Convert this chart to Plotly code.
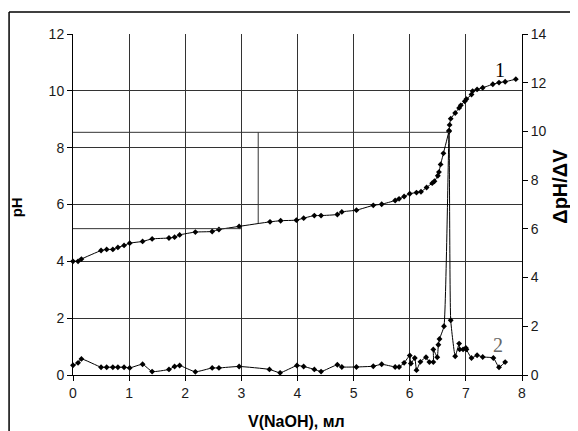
import plotly.graph_objects as go

# Curve 1: pH vs V(NaOH)
v_ph = [0, 0.09, 0.15, 0.5, 0.6, 0.71, 0.8, 0.91, 1.01, 1.24, 1.41, 1.71, 1.81, 1.9, 2.18, 2.48, 2.6, 2.96,
        3.51, 3.7, 3.98, 4.11, 4.3, 4.42, 4.71, 4.79, 5.05, 5.35, 5.5, 5.74, 5.81, 5.9, 6.0, 6.12, 6.2, 6.3,
        6.4, 6.44, 6.5, 6.52, 6.55, 6.6, 6.7, 6.71, 6.73, 6.81, 6.88, 6.91, 6.98, 7.01, 7.1, 7.12, 7.2, 7.3,
        7.48, 7.59, 7.7, 7.89]
ph = [4.0, 4.0, 4.08, 4.38, 4.42, 4.42, 4.49, 4.56, 4.64, 4.70, 4.79, 4.82, 4.85, 4.93, 5.03, 5.05, 5.12, 5.23,
      5.39, 5.43, 5.45, 5.52, 5.61, 5.61, 5.65, 5.74, 5.80, 5.97, 6.01, 6.14, 6.20, 6.28, 6.38, 6.42, 6.45, 6.60,
      6.75, 6.82, 7.01, 7.14, 7.41, 7.80, 8.60, 8.80, 9.02, 9.22, 9.40, 9.49, 9.63, 9.71, 9.87, 9.99, 10.05, 10.11,
      10.23, 10.29, 10.32, 10.41]

# Curve 2: dpH/dV vs V(NaOH)
v_d = [0, 0.09, 0.15, 0.5, 0.6, 0.71, 0.8, 0.91, 1.01, 1.24, 1.41, 1.71, 1.81, 1.9, 2.18, 2.48, 2.6, 2.96,
       3.5, 3.69, 3.99, 4.11, 4.3, 4.42, 4.71, 4.79, 5.05, 5.35, 5.5, 5.74, 5.81, 5.9, 6.0, 6.02, 6.09, 6.12,
       6.19, 6.29, 6.35, 6.42, 6.42, 6.49, 6.51, 6.53, 6.61, 6.70, 6.73, 6.81, 6.88, 6.89, 6.95, 7.0, 7.01,
       7.1, 7.2, 7.3, 7.49, 7.59, 7.7]
dph = [0.40, 0.50, 0.66, 0.32, 0.32, 0.32, 0.32, 0.32, 0.29, 0.44, 0.14, 0.23, 0.35, 0.39, 0.13, 0.29, 0.29, 0.35,
       0.23, 0.09, 0.39, 0.35, 0.23, 0.14, 0.42, 0.33, 0.33, 0.36, 0.44, 0.33, 0.33, 0.50, 0.80, 0.47, 0.70, 0.20,
       0.54, 0.73, 0.53, 0.53, 1.05, 0.73, 1.24, 1.48, 2.0, 10.0, 2.25, 0.77, 1.29, 1.05, 1.05, 1.11, 1.05,
       0.70, 0.81, 0.74, 0.70, 0.32, 0.53]

# construction lines (equivalence point / half-equivalence)
ph_eq = 8.54
v_eq = 6.71
v_half = 3.3
ph_half_end = 5.33
ph_half = 5.15
v_half_line_end = 3.0

x_ticks = list(range(0, 9))
y_ticks = list(range(0, 13, 2))
y2_ticks = list(range(0, 15, 2))

# page is offset by the 8px body margin
OFF = 8
W, H = 578 - OFF, 431 - OFF
ML, MT = 72.5 - OFF, 34 - OFF
MR = 578 - 522
MB = 431 - 375.5
pw, ph_px = W - ML - MR, H - MT - MB


def px(xpage):
    return (xpage - OFF - ML) / pw


def py(ypage):
    return 1 - (ypage - OFF - MT) / ph_px


fig = go.Figure()
fig.add_trace(go.Scatter(
    x=v_ph, y=ph, mode='lines+markers', cliponaxis=False,
    line=dict(color='black', width=1, shape='spline', smoothing=0.4),
    marker=dict(symbol='diamond', size=4.5, color='black'),
    showlegend=False, hoverinfo='skip'))
fig.add_trace(go.Scatter(
    x=v_d, y=dph, yaxis='y2', mode='lines+markers', cliponaxis=False,
    line=dict(color='black', width=1, shape='spline', smoothing=0.4),
    marker=dict(symbol='diamond', size=4.5, color='black'),
    showlegend=False, hoverinfo='skip'))

line_style = dict(color='#333333', width=1)
fig.add_shape(type='line', xref='x', yref='y', x0=0, x1=v_eq, y0=ph_eq, y1=ph_eq, line=line_style)
fig.add_shape(type='line', xref='x', yref='y', x0=v_half, x1=v_half, y0=ph_eq, y1=ph_half_end, line=line_style)
fig.add_shape(type='line', xref='x', yref='y', x0=0, x1=v_half_line_end, y0=ph_half, y1=ph_half, line=line_style)

# outer frame of the scanned figure
frame = dict(color='black', width=1.5)
fig.add_shape(type='line', xref='paper', yref='paper', x0=px(8.5), x1=px(8.5), y0=py(12), y1=py(460), line=frame)
fig.add_shape(type='line', xref='paper', yref='paper', x0=px(8.5), x1=px(600), y0=py(12), y1=py(12), line=frame)

font_tick = dict(family='Liberation Sans, Arial', size=14, color='#1a1a1a')

fig.update_layout(
    width=W, height=H, margin=dict(l=ML, r=MR, t=MT, b=MB),
    paper_bgcolor='white', plot_bgcolor='white', showlegend=False,
    xaxis=dict(range=[0, 8], tickvals=x_ticks, showgrid=True, gridcolor='#333333', gridwidth=1,
               showline=True, linecolor='black', linewidth=1, ticks='outside', ticklen=5,
               tickcolor='black', zeroline=False, tickfont=font_tick),
    yaxis=dict(range=[0, 12], tickvals=y_ticks, showgrid=True, gridcolor='#333333', gridwidth=1,
               showline=True, linecolor='black', linewidth=1, ticks='outside', ticklen=5,
               tickcolor='black', zeroline=False, tickfont=font_tick),
    yaxis2=dict(range=[0, 14], tickvals=y2_ticks, overlaying='y', side='right', showgrid=False,
                showline=True, linecolor='black', linewidth=1, ticks='outside', ticklen=5,
                tickcolor='black', zeroline=False, tickfont=font_tick),
)

fig.add_annotation(text='<b>pH</b>', xref='paper', yref='paper', x=px(16), y=py(208), showarrow=False,
                   xanchor='center', yanchor='middle',
                   textangle=-90, font=dict(family='Liberation Sans, Arial', size=15, color='black'))
fig.add_annotation(text='<b>ΔpH/ΔV</b>', xref='paper', yref='paper', x=px(560), y=py(186), showarrow=False,
                   xanchor='center', yanchor='middle',
                   textangle=-90, font=dict(family='Liberation Sans, Arial', size=20, color='black'))
fig.add_annotation(text='<b>V(NaOH), мл</b>', xref='paper', yref='paper', x=px(296), y=py(422),
                   xanchor='center', yanchor='middle',
                   showarrow=False, font=dict(family='Liberation Sans, Arial', size=16, color='black'))
fig.add_annotation(text='1', xref='x', yref='y', x=7.61, y=10.73, showarrow=False,
                   font=dict(family='Liberation Serif, Times New Roman', size=20, color='black'))
fig.add_annotation(text='2', xref='x', yref='y2', x=7.58, y=1.25, showarrow=False,
                   font=dict(family='Liberation Serif, Times New Roman', size=20, color='#666666'))

fig.write_html('out.html')
